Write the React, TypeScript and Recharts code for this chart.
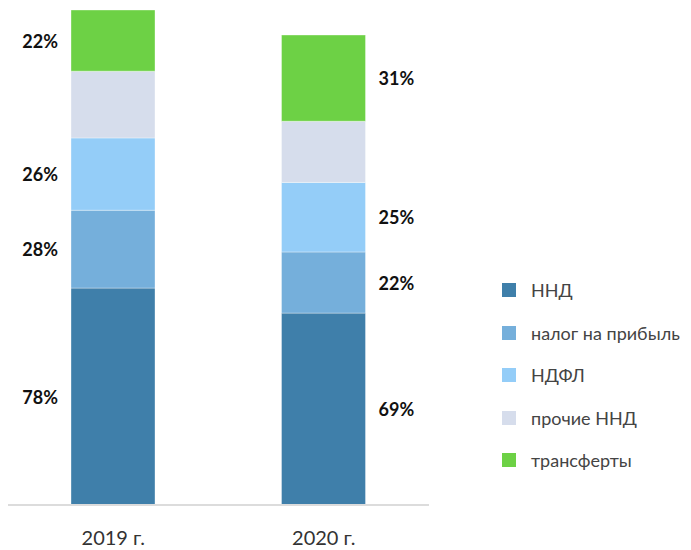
import { Bar, BarChart, LabelList, XAxis, YAxis } from "recharts";

const categories = ["2019 г.", "2020 г."];
const nnd = [78, 69];
const nalog = [28, 22];
const ndfl = [26, 25];
const prochie = [24, 22];
const transfers = [22, 31];

const series = [
  { key: "nnd", name: "ННД", color: "#3f7faa", values: nnd, labelled: true },
  { key: "nalog", name: "налог на прибыль", color: "#75afdb", values: nalog, labelled: true },
  { key: "ndfl", name: "НДФЛ", color: "#94cdf8", values: ndfl, labelled: true },
  { key: "prochie", name: "прочие ННД", color: "#d6ddec", values: prochie, labelled: false },
  { key: "transfers", name: "трансферты", color: "#6dd145", values: transfers, labelled: true },
];

const data = categories.map((year, i) => {
  const row: Record<string, string | number> = { year };
  series.forEach((s) => (row[s.key] = s.values[i]));
  return row;
});

const font = "Lato, 'Noto Sans', sans-serif";

function renderLabel(props: any) {
  const { x, y, width, height, value, index } = props;
  const left = index === 0;
  return (
    <text
      x={left ? x - 13 : x + width + 13}
      y={y + height / 2}
      textAnchor={left ? "end" : "start"}
      dominantBaseline="central"
      fontFamily={font}
      fontSize={18}
      fontWeight={700}
      fill="#111"
    >
      {`${value}%`}
    </text>
  );
}

export default function App() {
  return (
    <div style={{ position: "relative", width: 683, height: 542, fontFamily: font }}>
      <BarChart width={683} height={542} data={data} margin={{ top: 2, right: 262, left: 0, bottom: 0 }}>
        <XAxis
          dataKey="year"
          height={45}
          tickLine={false}
          axisLine={{ stroke: "#dcdcdc", strokeWidth: 2 }}
          tick={{ fill: "#333", fontSize: 20, fontFamily: font }}
          tickMargin={20}
        />
        <YAxis hide domain={[0, 178]} />
        {series.map((s) => (
          <Bar
            key={s.key}
            dataKey={s.key}
            name={s.name}
            stackId="a"
            fill={s.color}
            stroke="#ffffff"
            strokeOpacity={0.35}
            strokeWidth={1}
            barSize={84}
            isAnimationActive={false}
          >
            {s.labelled && <LabelList dataKey={s.key} content={renderLabel} />}
          </Bar>
        ))}
      </BarChart>
      <div style={{ position: "absolute", left: 494, top: 261 }}>
        {series.map((s) => (
          <div key={s.key} style={{ display: "flex", alignItems: "center", height: 42.5 }}>
            <span style={{ width: 14, height: 14, background: s.color, marginRight: 15, display: "inline-block" }} />
            <span style={{ fontSize: 18, color: "#444", whiteSpace: "nowrap" }}>{s.name}</span>
          </div>
        ))}
      </div>
    </div>
  );
}
